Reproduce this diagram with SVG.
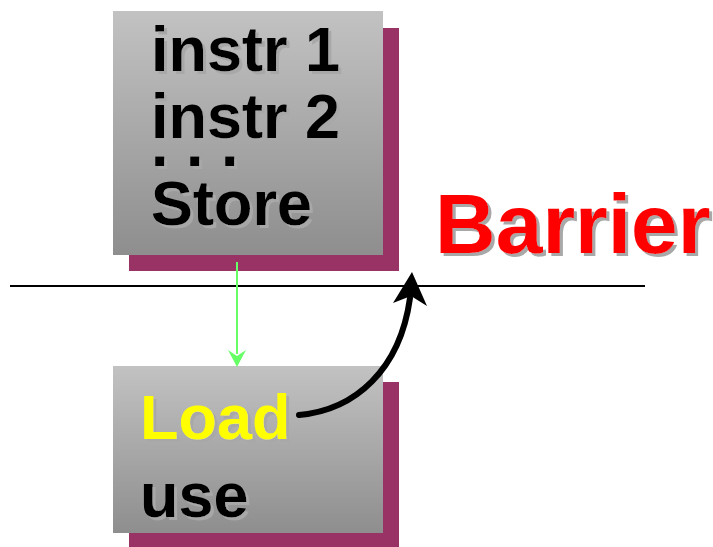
<svg xmlns="http://www.w3.org/2000/svg" width="713" height="547" viewBox="0 0 713 547">
<defs>
<linearGradient id="g" x1="0" y1="0" x2="0" y2="1">
<stop offset="0" stop-color="#c2c2c2"/>
<stop offset="1" stop-color="#8e8e8e"/>
</linearGradient>
<filter id="ts" x="-5%" y="-10%" width="115%" height="130%">
<feDropShadow dx="3" dy="3" stdDeviation="0" flood-color="#a8a8a8" flood-opacity="1"/>
</filter>
</defs>
<style>
.shadow{fill:#993366}
.box{fill:url(#g)}
.t{font-family:"Liberation Sans",Arial,sans-serif;font-weight:bold;font-size:63px;filter:url(#ts)}
</style>
<rect width="713" height="547" fill="#ffffff"/>
<g id="node-top">
<rect class="shadow" x="129" y="28" width="270" height="243"/>
<rect class="box" x="113" y="11" width="270" height="244"/>
<text class="t" x="151" y="71">instr 1</text>
<text class="t" x="151" y="138">instr 2</text>
<text class="t" x="151" y="166">. . .</text>
<text class="t" x="151" y="225">Store</text>
</g>
<g id="node-bottom">
<rect class="shadow" x="129" y="382" width="270" height="165"/>
<rect class="box" x="113" y="366" width="270" height="167"/>
<text class="t" x="140" y="439" fill="#ffff00">Load</text>
<text class="t" x="140" y="517">use</text>
</g>
<g id="label-barrier">
<text x="435" y="253" font-family="Liberation Sans,Arial,sans-serif" font-weight="bold" font-size="84" fill="#ff0000" filter="url(#ts)">Barrier</text>
</g>
<g id="connectors">
<line x1="10" y1="286" x2="645" y2="286" stroke="#000" stroke-width="2"/>
<line x1="237" y1="262" x2="237" y2="354" stroke="#66ff66" stroke-width="2"/>
<polygon points="237,367 228,350 237,356 246,350" fill="#66ff66"/>
<path d="M299,415 C355,410 400,370 410,298" fill="none" stroke="#000" stroke-width="6" stroke-linecap="round"/>
<polygon points="412,272 427,306 411,296 393,303" fill="#000"/>
</g>
</svg>
